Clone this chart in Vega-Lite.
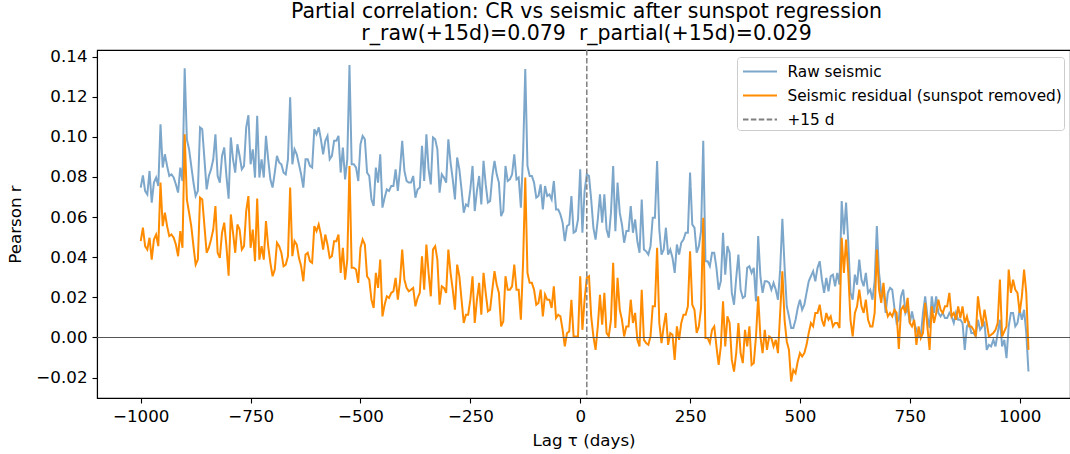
{
"$schema":"https://vega.github.io/schema/vega-lite/v6.json",
"width":973,"height":348,
"autosize":{"type":"none"},
"padding":{"left":97,"top":50,"right":0,"bottom":56},
"background":"white",
"config":{"font":"DejaVu Sans","view":{"stroke":"black","strokeWidth":1.1},
"title":{"fontSize":20.5,"subtitleFontSize":20.5,"font":"DejaVu Sans","subtitleFont":"DejaVu Sans","fontWeight":"normal","subtitleFontWeight":"normal","color":"black","subtitleColor":"black"},
"axis":{"grid":false,"domainColor":"black","domainWidth":1.1,"tickColor":"black","tickWidth":1.1,"tickSize":5,"labelPadding":5,"labelFontSize":16.7,"labelColor":"black","titleFontSize":16.7,"titleFontWeight":"normal","titleColor":"black","labelFont":"DejaVu Sans","titleFont":"DejaVu Sans"}},
"title":{"text":"Partial correlation: CR vs seismic after sunspot regression","subtitle":"r_raw(+15d)=0.079 \u00a0r_partial(+15d)=0.029","fontSize":20.5,"subtitleFontSize":20.5,"fontWeight":"normal","font":"DejaVu Sans","color":"black","subtitleColor":"black","anchor":"middle","offset":4,"subtitlePadding":2,"dx":3},
"datasets":{
"zero":[{"r":0}],
"marker":[{"lag":15,"series":"+15 d"}],
"corr":[
{"lag":-1000,"raw":0.0747,"res":0.048},{"lag":-995,"raw":0.0808,"res":0.0547},{"lag":-990,"raw":0.073,"res":0.0455},{"lag":-985,"raw":0.0713,"res":0.0438},{"lag":-980,"raw":0.083,"res":0.0497},{"lag":-975,"raw":0.0672,"res":0.0388},{"lag":-970,"raw":0.0772,"res":0.0488},{"lag":-965,"raw":0.0797,"res":0.0513},{"lag":-960,"raw":0.0755,"res":0.0455},{"lag":-955,"raw":0.1063,"res":0.0772},
{"lag":-950,"raw":0.0847,"res":0.0555},{"lag":-945,"raw":0.0913,"res":0.0622},{"lag":-940,"raw":0.0855,"res":0.0555},{"lag":-935,"raw":0.0805,"res":0.0505},{"lag":-930,"raw":0.0813,"res":0.0513},{"lag":-925,"raw":0.0797,"res":0.0497},{"lag":-920,"raw":0.0763,"res":0.0463},{"lag":-915,"raw":0.0722,"res":0.0405},{"lag":-910,"raw":0.0847,"res":0.053},{"lag":-905,"raw":0.078,"res":0.0447},
{"lag":-900,"raw":0.1342,"res":0.1013},{"lag":-895,"raw":0.0988,"res":0.0688},{"lag":-890,"raw":0.0938,"res":0.0622},{"lag":-885,"raw":0.0855,"res":0.0555},{"lag":-880,"raw":0.0772,"res":0.0455},{"lag":-875,"raw":0.0705,"res":0.0363},{"lag":-870,"raw":0.073,"res":0.0388},{"lag":-865,"raw":0.1047,"res":0.0697},{"lag":-860,"raw":0.1038,"res":0.0688},{"lag":-855,"raw":0.0888,"res":0.0555},
{"lag":-850,"raw":0.0738,"res":0.0422},{"lag":-845,"raw":0.0805,"res":0.0447},{"lag":-840,"raw":0.0838,"res":0.0488},{"lag":-835,"raw":0.0888,"res":0.0538},{"lag":-830,"raw":0.1013,"res":0.0655},{"lag":-825,"raw":0.0805,"res":0.0422},{"lag":-820,"raw":0.0772,"res":0.0397},{"lag":-815,"raw":0.0905,"res":0.0522},{"lag":-810,"raw":0.0947,"res":0.0572},{"lag":-805,"raw":0.0805,"res":0.0455},
{"lag":-800,"raw":0.0692,"res":0.0308},{"lag":-795,"raw":0.0997,"res":0.0613},{"lag":-790,"raw":0.0888,"res":0.0522},{"lag":-785,"raw":0.0822,"res":0.0422},{"lag":-780,"raw":0.0963,"res":0.0563},{"lag":-775,"raw":0.0905,"res":0.0538},{"lag":-770,"raw":0.0838,"res":0.0438},{"lag":-765,"raw":0.0855,"res":0.0455},{"lag":-760,"raw":0.1047,"res":0.063},{"lag":-755,"raw":0.1108,"res":0.0705},
{"lag":-750,"raw":0.0863,"res":0.0447},{"lag":-745,"raw":0.0938,"res":0.0538},{"lag":-740,"raw":0.0797,"res":0.038},{"lag":-735,"raw":0.1105,"res":0.0692},{"lag":-730,"raw":0.0797,"res":0.0388},{"lag":-725,"raw":0.0888,"res":0.0455},{"lag":-720,"raw":0.0797,"res":0.0388},{"lag":-715,"raw":0.1005,"res":0.058},{"lag":-710,"raw":0.0888,"res":0.0455},{"lag":-705,"raw":0.0788,"res":0.0372},
{"lag":-700,"raw":0.0747,"res":0.0305},{"lag":-695,"raw":0.0822,"res":0.0338},{"lag":-690,"raw":0.0905,"res":0.0472},{"lag":-685,"raw":0.0872,"res":0.0455},{"lag":-680,"raw":0.0863,"res":0.0422},{"lag":-675,"raw":0.0822,"res":0.0355},
{"lag":-670,"raw":0.0813,"res":0.0363},{"lag":-665,"raw":0.0888,"res":0.0405},{"lag":-660,"raw":0.1197,"res":0.0747},{"lag":-655,"raw":0.0863,"res":0.0405},{"lag":-650,"raw":0.0938,"res":0.048},{"lag":-645,"raw":0.0913,"res":0.0463},{"lag":-640,"raw":0.0863,"res":0.0397},{"lag":-635,"raw":0.0813,"res":0.0355},{"lag":-630,"raw":0.0747,"res":0.028},{"lag":-625,"raw":0.0888,"res":0.0413},
{"lag":-620,"raw":0.0888,"res":0.0422},{"lag":-615,"raw":0.0855,"res":0.038},{"lag":-610,"raw":0.0847,"res":0.0372},{"lag":-605,"raw":0.1038,"res":0.0555},{"lag":-600,"raw":0.1013,"res":0.053},{"lag":-595,"raw":0.1047,"res":0.0563},{"lag":-590,"raw":0.0988,"res":0.0513},{"lag":-585,"raw":0.0913,"res":0.0438},{"lag":-580,"raw":0.098,"res":0.0513},{"lag":-575,"raw":0.1005,"res":0.0463},
{"lag":-570,"raw":0.0888,"res":0.0397},{"lag":-565,"raw":0.0905,"res":0.0405},{"lag":-560,"raw":0.098,"res":0.048},{"lag":-555,"raw":0.098,"res":0.048},{"lag":-550,"raw":0.1005,"res":0.0513},{"lag":-545,"raw":0.0822,"res":0.0322},{"lag":-540,"raw":0.0947,"res":0.0447},{"lag":-535,"raw":0.0788,"res":0.0288},{"lag":-530,"raw":0.0888,"res":0.0388},{"lag":-525,"raw":0.1358,"res":0.0855},
{"lag":-520,"raw":0.0863,"res":0.0347},{"lag":-515,"raw":0.0863,"res":0.0347},{"lag":-510,"raw":0.0847,"res":0.0338},{"lag":-505,"raw":0.078,"res":0.0272},{"lag":-500,"raw":0.0963,"res":0.0447},{"lag":-495,"raw":0.1005,"res":0.0488},{"lag":-490,"raw":0.0988,"res":0.0463},{"lag":-485,"raw":0.0822,"res":0.0305},{"lag":-480,"raw":0.0805,"res":0.0288},{"lag":-475,"raw":0.0688,"res":0.0188},
{"lag":-470,"raw":0.0655,"res":0.0147},{"lag":-465,"raw":0.0847,"res":0.0322},{"lag":-460,"raw":0.0772,"res":0.0247},{"lag":-455,"raw":0.0913,"res":0.0388},{"lag":-450,"raw":0.0647,"res":0.0105},{"lag":-445,"raw":0.0697,"res":0.0163},{"lag":-440,"raw":0.0738,"res":0.0205},{"lag":-435,"raw":0.073,"res":0.0197},{"lag":-430,"raw":0.0755,"res":0.0222},{"lag":-425,"raw":0.0755,"res":0.023},
{"lag":-420,"raw":0.0838,"res":0.0297},{"lag":-415,"raw":0.073,"res":0.0188},{"lag":-410,"raw":0.0838,"res":0.028},{"lag":-405,"raw":0.098,"res":0.0438},{"lag":-400,"raw":0.083,"res":0.0288},{"lag":-395,"raw":0.078,"res":0.0247},{"lag":-390,"raw":0.0772,"res":0.023},{"lag":-385,"raw":0.0772,"res":0.0238},{"lag":-380,"raw":0.0805,"res":0.0247},{"lag":-375,"raw":0.0697,"res":0.0155},
{"lag":-370,"raw":0.0738,"res":0.0197},{"lag":-365,"raw":0.0747,"res":0.0222},{"lag":-360,"raw":0.0955,"res":0.0405},{"lag":-355,"raw":0.078,"res":0.0238},{"lag":-350,"raw":0.1013,"res":0.0463},{"lag":-345,"raw":0.0838,"res":0.0322},{"lag":-340,"raw":0.0763,"res":0.0205},{"lag":-335,"raw":0.0997,"res":0.0438},
{"lag":-330,"raw":0.0988,"res":0.0455},{"lag":-325,"raw":0.0938,"res":0.0388},{"lag":-320,"raw":0.0722,"res":0.0163},{"lag":-315,"raw":0.0813,"res":0.0255},{"lag":-310,"raw":0.0797,"res":0.0247},{"lag":-305,"raw":0.0772,"res":0.0222},{"lag":-300,"raw":0.0988,"res":0.0438},{"lag":-295,"raw":0.0872,"res":0.0322},{"lag":-290,"raw":0.0788,"res":0.0238},{"lag":-285,"raw":0.0688,"res":0.0138},
{"lag":-280,"raw":0.0897,"res":0.0363},{"lag":-275,"raw":0.0838,"res":0.0305},{"lag":-270,"raw":0.0738,"res":0.0188},{"lag":-265,"raw":0.0622,"res":0.0072},{"lag":-260,"raw":0.0663,"res":0.0113},{"lag":-255,"raw":0.0655,"res":0.0113},{"lag":-250,"raw":0.0738,"res":0.0188},{"lag":-245,"raw":0.0855,"res":0.0305},{"lag":-240,"raw":0.063,"res":0.0072},{"lag":-235,"raw":0.073,"res":0.0188},
{"lag":-230,"raw":0.0805,"res":0.0272},{"lag":-225,"raw":0.0663,"res":0.0113},{"lag":-220,"raw":0.088,"res":0.0322},{"lag":-215,"raw":0.0763,"res":0.0222},{"lag":-210,"raw":0.0672,"res":0.013},{"lag":-205,"raw":0.068,"res":0.0138},{"lag":-200,"raw":0.0805,"res":0.0238},{"lag":-195,"raw":0.088,"res":0.033},{"lag":-190,"raw":0.0813,"res":0.0263},{"lag":-185,"raw":0.0772,"res":0.0222},
{"lag":-180,"raw":0.0605,"res":0.0055},{"lag":-175,"raw":0.063,"res":0.008},{"lag":-170,"raw":0.0855,"res":0.0305},{"lag":-165,"raw":0.078,"res":0.0238},{"lag":-160,"raw":0.0788,"res":0.0238},{"lag":-155,"raw":0.0813,"res":0.0255},{"lag":-150,"raw":0.0913,"res":0.0363},{"lag":-145,"raw":0.0788,"res":0.0238},{"lag":-140,"raw":0.0797,"res":0.0238},{"lag":-135,"raw":0.0647,"res":0.0088},
{"lag":-130,"raw":0.0913,"res":0.0372},{"lag":-125,"raw":0.1338,"res":0.0797},{"lag":-120,"raw":0.0855,"res":0.0322},{"lag":-115,"raw":0.0805,"res":0.0272},{"lag":-110,"raw":0.0805,"res":0.0272},{"lag":-105,"raw":0.0772,"res":0.0238},{"lag":-100,"raw":0.0697,"res":0.0163},{"lag":-95,"raw":0.0705,"res":0.0172},{"lag":-90,"raw":0.0763,"res":0.0238},{"lag":-85,"raw":0.0638,"res":0.0105},
{"lag":-80,"raw":0.0755,"res":0.0213},{"lag":-75,"raw":0.0705,"res":0.0188},{"lag":-70,"raw":0.0713,"res":0.0188},{"lag":-65,"raw":0.0688,"res":0.0147},{"lag":-60,"raw":0.078,"res":0.0255},{"lag":-55,"raw":0.0638,"res":0.0097},{"lag":-50,"raw":0.0638,"res":0.0113},{"lag":-45,"raw":0.0613,"res":0.0105},{"lag":-40,"raw":0.0572,"res":0.0038},{"lag":-35,"raw":0.048,"res":-0.0045},
{"lag":-30,"raw":0.0555,"res":0.0022},{"lag":-25,"raw":0.0563,"res":0.003},{"lag":-20,"raw":0.0705,"res":0.0188},{"lag":-15,"raw":0.0522,"res":0.0005},{"lag":-10,"raw":0.053,"res":0.0005},{"lag":-5,"raw":0.0588,"res":0.0005},{"lag":0,"raw":0.0838,"res":0.0305},{"lag":5,"raw":0.0522,"res":0.0038},
{"lag":10,"raw":0.073,"res":0.0188},{"lag":15,"raw":0.0813,"res":0.0297},{"lag":20,"raw":0.0805,"res":0.0305},{"lag":25,"raw":0.0688,"res":0.0105},{"lag":30,"raw":0.0547,"res":0.0005},{"lag":35,"raw":0.0488,"res":-0.0062},{"lag":40,"raw":0.0588,"res":0.0055},{"lag":45,"raw":0.0713,"res":0.0213},{"lag":50,"raw":0.0572,"res":0.0063},{"lag":55,"raw":0.0713,"res":0.0222},
{"lag":60,"raw":0.0538,"res":0.0022},{"lag":65,"raw":0.0497,"res":0.0005},{"lag":70,"raw":0.0622,"res":0.0088},{"lag":75,"raw":0.0855,"res":0.0372},{"lag":80,"raw":0.053,"res":0.0047},{"lag":85,"raw":0.0772,"res":0.0297},{"lag":90,"raw":0.0622,"res":0.0138},{"lag":95,"raw":0.0563,"res":0.0088},{"lag":100,"raw":0.0472,"res":0.0005},{"lag":105,"raw":0.053,"res":0.0055},
{"lag":110,"raw":0.053,"res":0.0055},{"lag":115,"raw":0.0655,"res":0.0188},{"lag":120,"raw":0.0522,"res":0.0072},{"lag":125,"raw":0.0588,"res":0.0122},{"lag":130,"raw":0.048,"res":-0.0012},{"lag":135,"raw":0.0422,"res":-0.0045},{"lag":140,"raw":0.0688,"res":0.0238},{"lag":145,"raw":0.0438,"res":-0.0012},{"lag":150,"raw":0.043,"res":-0.0028},{"lag":155,"raw":0.0413,"res":-0.0037},
{"lag":160,"raw":0.0455,"res":0.0005},{"lag":165,"raw":0.0597,"res":0.0155},{"lag":170,"raw":0.0597,"res":0.0155},{"lag":175,"raw":0.088,"res":0.0447},{"lag":180,"raw":0.0538,"res":0.0072},{"lag":185,"raw":0.0413,"res":-0.0028},{"lag":190,"raw":0.0438,"res":0.0055},{"lag":195,"raw":0.0547,"res":0.0122},{"lag":200,"raw":0.0413,"res":-0.0037},{"lag":205,"raw":0.0438,"res":0.0022},
{"lag":210,"raw":0.0397,"res":0.0013},{"lag":215,"raw":0.0322,"res":-0.0112},{"lag":220,"raw":0.0463,"res":0.0055},{"lag":225,"raw":0.0413,"res":-0.0012},{"lag":230,"raw":0.0472,"res":0.0072},{"lag":235,"raw":0.0488,"res":0.0113},{"lag":240,"raw":0.0522,"res":0.0113},{"lag":245,"raw":0.0522,"res":0.0155},{"lag":250,"raw":0.0822,"res":0.043},{"lag":255,"raw":0.0563,"res":0.0163},
{"lag":260,"raw":0.0547,"res":0.0138},{"lag":265,"raw":0.0422,"res":0.0022},{"lag":270,"raw":0.0455,"res":0.0055},{"lag":275,"raw":0.053,"res":0.0147},{"lag":280,"raw":0.098,"res":0.0597},{"lag":285,"raw":0.038,"res":-0.0003},{"lag":290,"raw":0.038,"res":-0.0003},{"lag":295,"raw":0.0355,"res":-0.0028},{"lag":300,"raw":0.0422,"res":0.0038},{"lag":305,"raw":0.0422,"res":0.0055},
{"lag":310,"raw":0.0347,"res":-0.0045},{"lag":315,"raw":0.0238,"res":-0.0137},{"lag":320,"raw":0.028,"res":-0.0045},{"lag":325,"raw":0.0522,"res":0.018},{"lag":330,"raw":0.0313,"res":-0.0045},{"lag":335,"raw":0.0455,"res":0.0105},{"lag":340,"raw":0.0422,"res":0.0072},{"lag":345,"raw":0.0222,"res":-0.0112},
{"lag":350,"raw":0.0163,"res":-0.017},{"lag":355,"raw":0.0297,"res":-0.0078},{"lag":360,"raw":0.0413,"res":0.0072},{"lag":365,"raw":0.0238,"res":-0.0078},{"lag":370,"raw":0.0197,"res":-0.0128},{"lag":375,"raw":0.0205,"res":0.0038},{"lag":380,"raw":0.0347,"res":-0.0045},{"lag":385,"raw":0.0355,"res":0.0055},{"lag":390,"raw":0.0322,"res":-0.0137},{"lag":395,"raw":0.0347,"res":-0.0128},
{"lag":400,"raw":0.018,"res":0.0005},{"lag":405,"raw":0.0505,"res":0.0205},{"lag":410,"raw":0.0305,"res":0.0005},{"lag":415,"raw":0.0222,"res":-0.0078},{"lag":420,"raw":0.028,"res":0.0038},{"lag":425,"raw":0.028,"res":-0.0062},{"lag":430,"raw":0.0272,"res":0.0005},{"lag":435,"raw":0.0238,"res":-0.0003},{"lag":440,"raw":0.0272,"res":-0.0045},{"lag":445,"raw":0.0238,"res":-0.0012},
{"lag":450,"raw":0.0188,"res":-0.0078},{"lag":455,"raw":0.0338,"res":0.0122},{"lag":460,"raw":0.0592,"res":0.033},{"lag":465,"raw":0.0355,"res":0.0088},{"lag":470,"raw":0.0155,"res":-0.002},{"lag":475,"raw":0.0105,"res":-0.0062},{"lag":480,"raw":0.0047,"res":-0.022},{"lag":485,"raw":0.0047,"res":-0.0162},{"lag":490,"raw":0.0088,"res":-0.0178},{"lag":495,"raw":0.0147,"res":-0.012},
{"lag":500,"raw":0.0188,"res":-0.0078},{"lag":505,"raw":0.0138,"res":-0.0095},{"lag":510,"raw":0.0163,"res":-0.0078},{"lag":515,"raw":0.0222,"res":-0.0037},{"lag":520,"raw":0.028,"res":0.0022},{"lag":525,"raw":0.0305,"res":0.0072},{"lag":530,"raw":0.033,"res":0.0055},{"lag":535,"raw":0.028,"res":0.0122},{"lag":540,"raw":0.0347,"res":0.0122},{"lag":545,"raw":0.038,"res":0.0163},
{"lag":550,"raw":0.0288,"res":0.0088},{"lag":555,"raw":0.0222,"res":0.0055},{"lag":560,"raw":0.0297,"res":0.0122},{"lag":565,"raw":0.023,"res":0.0088},{"lag":570,"raw":0.0305,"res":0.0105},{"lag":575,"raw":0.0313,"res":0.0055},{"lag":580,"raw":0.0255,"res":0.0072},{"lag":585,"raw":0.0322,"res":0.0072},{"lag":590,"raw":0.0263,"res":0.0047},{"lag":595,"raw":0.068,"res":0.0497},
{"lag":600,"raw":0.0513,"res":0.0322},{"lag":605,"raw":0.0672,"res":0.0488},{"lag":610,"raw":0.0472,"res":0.0322},{"lag":615,"raw":0.0222,"res":0.0088},{"lag":620,"raw":0.0188,"res":0.0005},{"lag":625,"raw":0.0313,"res":0.0122},{"lag":630,"raw":0.0263,"res":0.0155},{"lag":635,"raw":0.0388,"res":0.0238},{"lag":640,"raw":0.0288,"res":0.0155},{"lag":645,"raw":0.0255,"res":0.0122},
{"lag":650,"raw":0.0322,"res":0.0188},{"lag":655,"raw":0.0222,"res":0.0088},{"lag":660,"raw":0.0238,"res":0.0055},{"lag":665,"raw":0.0188,"res":0.0055},{"lag":670,"raw":0.028,"res":0.0122},{"lag":675,"raw":0.0555,"res":0.0438},{"lag":680,"raw":0.0322,"res":0.0238},{"lag":685,"raw":0.0222,"res":0.0172},
{"lag":690,"raw":0.0238,"res":0.0272},{"lag":695,"raw":0.0122,"res":0.0155},{"lag":700,"raw":0.0222,"res":0.0105},{"lag":705,"raw":0.0247,"res":0.0122},{"lag":710,"raw":0.0238,"res":0.0105},{"lag":715,"raw":0.0147,"res":0.0138},{"lag":720,"raw":0.0072,"res":0.0122},{"lag":725,"raw":0.0088,"res":-0.0058},{"lag":730,"raw":0.0205,"res":0.0138},{"lag":735,"raw":0.0238,"res":0.0155},
{"lag":740,"raw":0.0122,"res":0.0122},{"lag":745,"raw":0.0147,"res":0.0197},{"lag":750,"raw":0.0072,"res":0.0072},{"lag":755,"raw":0.013,"res":0.0055},{"lag":760,"raw":0.0072,"res":0.0088},{"lag":765,"raw":0.0038,"res":-0.0037},{"lag":770,"raw":0.0005,"res":0.0055},{"lag":775,"raw":0.0005,"res":-0.0003},{"lag":780,"raw":0.0122,"res":0.0022},{"lag":785,"raw":0.0205,"res":0.0172},
{"lag":790,"raw":0.0105,"res":0.0055},{"lag":795,"raw":0.0047,"res":-0.0062},{"lag":800,"raw":0.0205,"res":0.0155},{"lag":805,"raw":0.0122,"res":0.0072},{"lag":810,"raw":0.0205,"res":0.0122},{"lag":815,"raw":0.0122,"res":0.0188},{"lag":820,"raw":0.0105,"res":0.0138},{"lag":825,"raw":0.0122,"res":0.0122},{"lag":830,"raw":0.0097,"res":0.0155},{"lag":835,"raw":0.0097,"res":0.0155},
{"lag":840,"raw":0.0122,"res":0.0222},{"lag":845,"raw":0.0105,"res":0.0105},{"lag":850,"raw":0.0072,"res":0.0122},{"lag":855,"raw":0.0122,"res":0.0088},{"lag":860,"raw":0.0088,"res":0.0155},{"lag":865,"raw":0.0088,"res":0.0097},{"lag":870,"raw":0.0072,"res":0.0155},{"lag":875,"raw":-0.0062,"res":0.0072},{"lag":880,"raw":0.0055,"res":0.0105},{"lag":885,"raw":0.0072,"res":0.0055},
{"lag":890,"raw":0.0022,"res":0.0055},{"lag":895,"raw":0.0022,"res":0.0038},{"lag":900,"raw":0.0005,"res":0.0005},{"lag":905,"raw":0.0088,"res":0.0205},{"lag":910,"raw":0.0038,"res":0.0122},{"lag":915,"raw":0.0055,"res":0.0055},{"lag":920,"raw":0.0072,"res":0.0138},{"lag":925,"raw":-0.0062,"res":0.0072},{"lag":930,"raw":-0.0037,"res":0.0005},{"lag":935,"raw":-0.0045,"res":0.0013},
{"lag":940,"raw":-0.0012,"res":0.0022},{"lag":945,"raw":-0.0045,"res":0.0038},{"lag":950,"raw":0.0022,"res":0.0072},{"lag":955,"raw":0.0088,"res":0.0288},{"lag":960,"raw":-0.0045,"res":0.0005},{"lag":965,"raw":-0.0012,"res":0.003},{"lag":970,"raw":-0.0103,"res":0.0055},{"lag":975,"raw":0.0055,"res":0.0338},{"lag":980,"raw":0.0122,"res":0.0222},{"lag":985,"raw":0.0122,"res":0.0288},
{"lag":990,"raw":0.0055,"res":0.0238},{"lag":995,"raw":0.0072,"res":0.0222},{"lag":1000,"raw":0.0138,"res":0.0122},{"lag":1005,"raw":0.0088,"res":0.0205},{"lag":1010,"raw":0.0138,"res":0.0338},{"lag":1015,"raw":0.0022,"res":0.0222},{"lag":1020,"raw":-0.017,"res":-0.0062}
]},
"layer":[
{"data":{"name":"corr"},
"transform":[{"fold":["raw","res"],"as":["series","r"]}],
"mark":{"type":"line","strokeWidth":2,"clip":true},
"encoding":{
"x":{"field":"lag","type":"quantitative","scale":{"domain":[-1099.5,1114.5],"nice":false,"zero":false},"axis":{"values":[-1000,-750,-500,-250,0,250,500,750,1000],"format":"d","title":"Lag τ (days)","titlePadding":8}},
"y":{"field":"r","type":"quantitative","scale":{"domain":[-0.0302,0.1433],"nice":false,"zero":false},"axis":{"values":[-0.02,0,0.02,0.04,0.06,0.08,0.1,0.12,0.14],"format":".2f","title":"Pearson r","titlePadding":11}},
"color":{"field":"series","type":"nominal","scale":{"domain":["raw","res","+15 d"],"range":["#7DA7CA","#FF8C00","#808080"]},
"legend":{"title":null,"orient":"none","legendX":640,"legendY":7,"labelExpr":"datum.label == 'raw' ? 'Raw seismic' : datum.label == 'res' ? 'Seismic residual (sunspot removed)' : datum.label","fillColor":"white","strokeColor":"#cccccc","cornerRadius":3,"padding":2,"rowPadding":3,"labelFontSize":15.3,"labelFont":"DejaVu Sans","labelColor":"black","labelLimit":400,"symbolType":"M-1.48,0L1.48,0","symbolSize":529,"symbolStrokeWidth":2,"symbolOffset":8.5,"labelOffset":15}},
"strokeDash":{"field":"series","type":"nominal","scale":{"domain":["raw","res","+15 d"],"range":[[1,0],[1,0],[5.5,2.4]]},"legend":{"title":null,"orient":"none","legendX":640,"legendY":7,"labelExpr":"datum.label == 'raw' ? 'Raw seismic' : datum.label == 'res' ? 'Seismic residual (sunspot removed)' : datum.label","fillColor":"white","strokeColor":"#cccccc","cornerRadius":3,"padding":2,"rowPadding":3,"labelFontSize":15.3,"labelFont":"DejaVu Sans","labelColor":"black","labelLimit":400,"symbolType":"M-1.48,0L1.48,0","symbolSize":529,"symbolStrokeWidth":2,"symbolOffset":8.5,"labelOffset":15}}
}},
{"data":{"name":"zero"},"mark":{"type":"rule","color":"#555555","strokeWidth":1.1},"encoding":{"y":{"field":"r","type":"quantitative"}}},
{"data":{"name":"marker"},"mark":{"type":"rule","strokeWidth":1.5},"encoding":{"x":{"field":"lag","type":"quantitative"},"color":{"field":"series","type":"nominal"},"strokeDash":{"field":"series","type":"nominal"}}}
]
}
